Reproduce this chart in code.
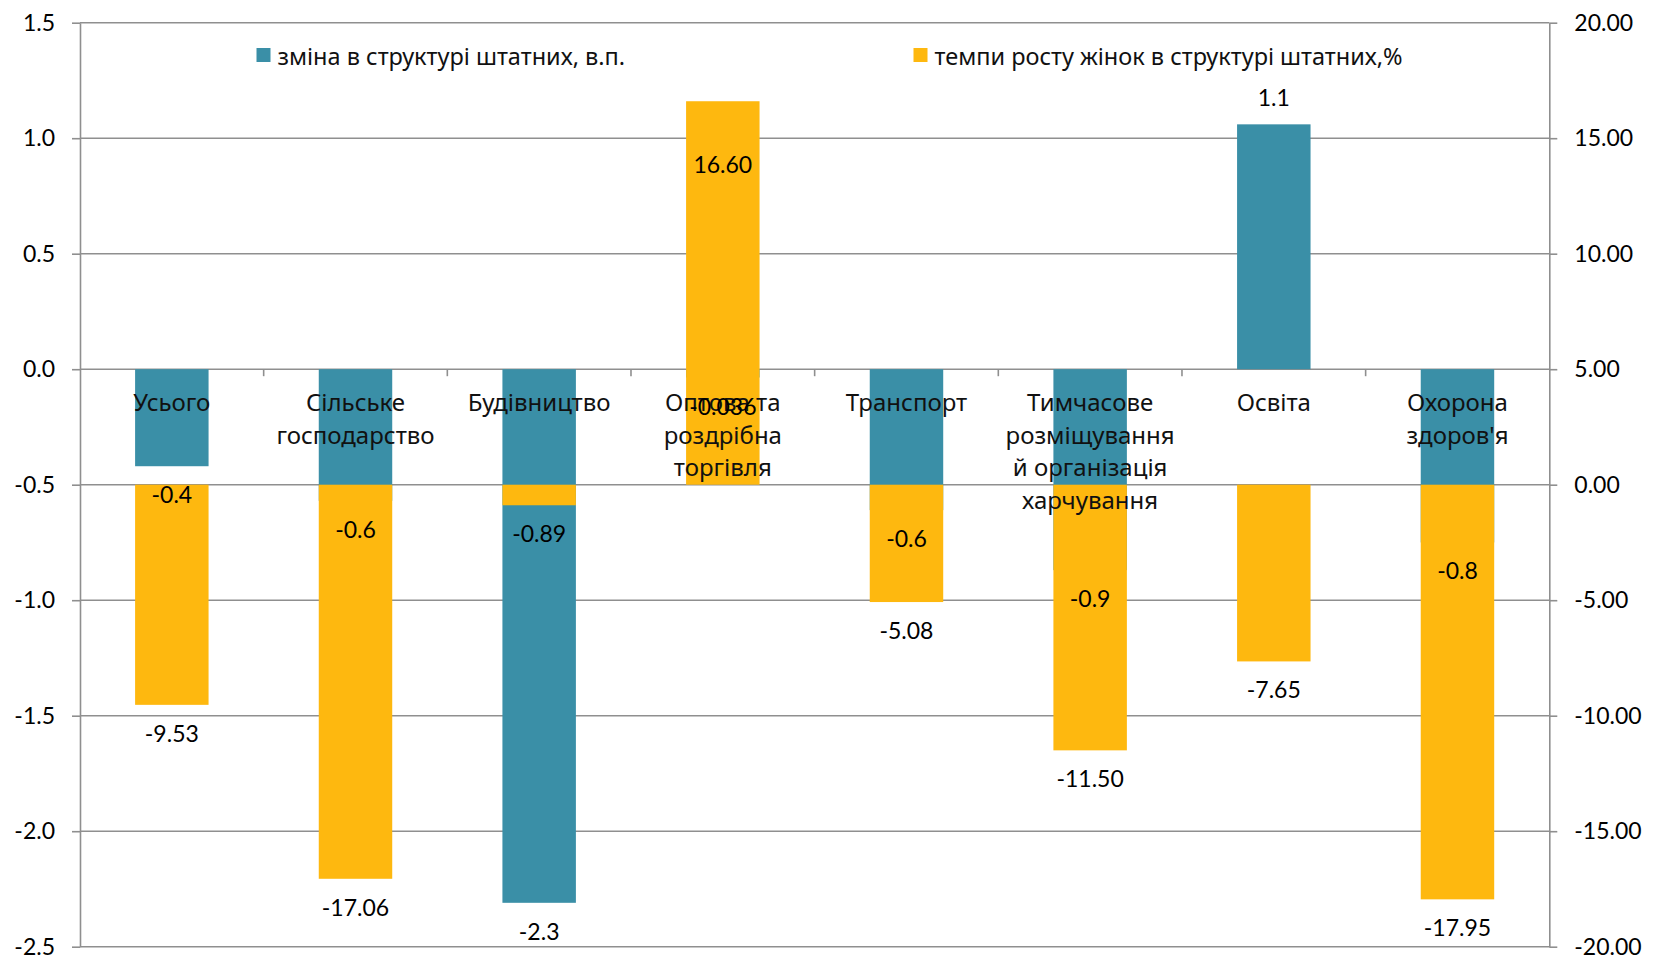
<!DOCTYPE html>
<html>
<head>
<meta charset="utf-8">
<script src="https://cdn.jsdelivr.net/npm/d3@7"></script>
<style>
  body { margin: 0; background: #fff; }
  text { font-family: Lato, sans-serif; fill: #000; }
  .cat text, .legend text { font-family: "Noto Sans", sans-serif; fill: #111; }
</style>
</head>
<body>
<div class="chart"></div>
<script>
const categories = [
  "Усього",
  "Сільське\nгосподарство",
  "Будівництво",
  "Оптова та\nроздрібна\nторгівля",
  "Транспорт",
  "Тимчасове\nрозміщування\nй організація\nхарчування",
  "Освіта",
  "Охорона\nздоров'я"
];
// left axis series, percentage points
const shareChange = [-0.42, -0.57, -2.31, -0.036, -0.61, -0.87, 1.06, -0.75];
const shareChangeLabels = ["-0.4", "-0.6", "-2.3", "-0.036", "-0.6", "-0.9", "1.1", "-0.8"];
// right axis series, %
const womenGrowth = [-9.53, -17.06, -0.89, 16.6, -5.08, -11.5, -7.65, -17.95];
const seriesNames = [
  "зміна в структурі штатних, в.п.",
  "темпи росту жінок в структурі штатних,%"
];
const leftTicks = [-2.5, -2.0, -1.5, -1.0, -0.5, 0.0, 0.5, 1.0, 1.5];
const rightTicks = [-20, -15, -10, -5, 0, 5, 10, 15, 20];

const colors = ["#3a8fa7", "#feb80f"];

init();

function init() {
  const width = 1655,
    height = 957;
  const plot = { left: 80, right: 1549.3, top: 22.7, bottom: 946.7 };
  const fmt = d3.formatLocale({
    decimal: ".",
    thousands: ",",
    grouping: [3],
    currency: ["", ""],
    minus: "-"
  });

  const svg = d3
    .select(".chart")
    .append("svg")
    .attr("width", width)
    .attr("height", height);

  const x = d3
    .scaleBand()
    .domain(categories)
    .range([plot.left, plot.right])
    .paddingInner(0.6)
    .paddingOuter(0.3);

  const yL = d3
    .scaleLinear()
    .domain([-2.5, 1.5])
    .range([plot.bottom, plot.top]);
  const yR = d3
    .scaleLinear()
    .domain([-20, 20])
    .range([plot.bottom, plot.top]);

  // gridlines
  svg
    .append("g")
    .selectAll("line")
    .data(leftTicks)
    .join("line")
    .attr("x1", plot.left)
    .attr("x2", plot.right)
    .attr("y1", d => yL(d))
    .attr("y2", d => yL(d))
    .attr("stroke", "#8f8f8f")
    .attr("stroke-width", 1.6);

  const axisStyle = g => {
    g.select(".domain").attr("stroke", "#8f8f8f").attr("stroke-width", 1.6);
    g.selectAll(".tick line").attr("stroke", "#8f8f8f").attr("stroke-width", 1.6);
    g.selectAll(".tick text")
      .attr("font-size", "23px")
      .attr("font-family", "Lato, sans-serif")
      .attr("fill", "#000");
  };

  svg
    .append("g")
    .attr("transform", `translate(${plot.left},0)`)
    .call(
      d3
        .axisLeft(yL)
        .tickValues(leftTicks)
        .tickFormat(fmt.format(".1f"))
        .tickSize(8)
        .tickSizeOuter(0)
        .tickPadding(17)
    )
    .call(axisStyle);

  svg
    .append("g")
    .attr("transform", `translate(${plot.right},0)`)
    .call(
      d3
        .axisRight(yR)
        .tickValues(rightTicks)
        .tickFormat(fmt.format(".2f"))
        .tickSize(8)
        .tickSizeOuter(0)
        .tickPadding(17)
    )
    .call(axisStyle);

  // category ticks between bands, hanging below zero line
  const step = x.step();
  svg
    .append("g")
    .selectAll("line")
    .data(categories.slice(1))
    .join("line")
    .attr("x1", d => x(d) + x.bandwidth() / 2 - step / 2)
    .attr("x2", d => x(d) + x.bandwidth() / 2 - step / 2)
    .attr("y1", yL(0))
    .attr("y2", yL(0) + 7)
    .attr("stroke", "#8f8f8f")
    .attr("stroke-width", 1.6);

  const series = [
    { values: shareChange, y: yL, color: colors[0] },
    { values: womenGrowth, y: yR, color: colors[1] }
  ];

  series.forEach(s => {
    svg
      .append("g")
      .selectAll("rect")
      .data(s.values)
      .join("rect")
      .attr("x", (d, i) => x(categories[i]))
      .attr("width", x.bandwidth())
      .attr("y", d => s.y(Math.max(0, d)))
      .attr("height", d => Math.abs(s.y(d) - s.y(0)))
      .attr("fill", s.color);
  });

  // category labels
  const cat = svg.append("g").attr("class", "cat");
  categories.forEach(c => {
    const t = cat
      .append("text")
      .attr("x", x(c) + x.bandwidth() / 2)
      .attr("y", yL(0) + 42)
      .attr("text-anchor", "middle")
      .attr("font-size", "24px");
    c.split("\n").forEach((line, j) => {
      t.append("tspan")
        .attr("x", x(c) + x.bandwidth() / 2)
        .attr("dy", j ? 32.5 : 0)
        .text(line);
    });
  });

  // data labels
  const labels = svg
    .append("g")
    .attr("text-anchor", "middle")
    .attr("font-size", "23px");

  labels
    .selectAll(".lblL")
    .data(shareChange)
    .join("text")
    .attr("class", "lblL")
    .attr("x", (d, i) => x(categories[i]) + x.bandwidth() / 2)
    .attr("y", d => (d < 0 ? yL(d) + 37 : yL(d) - 18))
    .text((d, i) => shareChangeLabels[i]);

  labels
    .selectAll(".lblR")
    .data(womenGrowth)
    .join("text")
    .attr("class", "lblR")
    .attr("x", (d, i) => x(categories[i]) + x.bandwidth() / 2)
    .attr("y", d => (d < 0 ? yR(d) + 37 : yR(d) + 72))
    .text(d => fmt.format(".2f")(d));

  // legend
  const legendX = [256.5, 913.5];
  const legend = svg
    .append("g")
    .attr("class", "legend")
    .selectAll("g")
    .data(seriesNames)
    .join("g")
    .attr("transform", (d, i) => `translate(${legendX[i]},48)`);
  legend
    .append("rect")
    .attr("width", 14)
    .attr("height", 14)
    .attr("fill", (d, i) => colors[i]);
  legend
    .append("text")
    .attr("x", 21)
    .attr("y", 17)
    .attr("font-size", "23.5px")
    .text(d => d);
}
</script>
</body>
</html>
